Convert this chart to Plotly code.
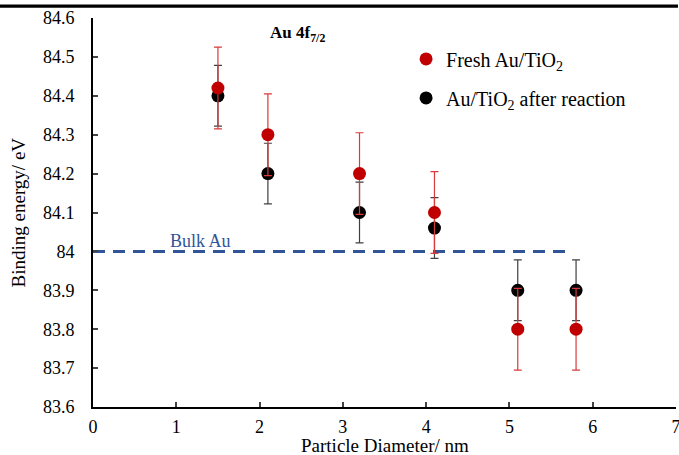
import plotly.graph_objects as go

# Data
diameters = [1.5, 2.1, 3.2, 4.1, 5.1, 5.8]
fresh_be = [84.42, 84.30, 84.20, 84.10, 83.80, 83.80]
fresh_err = [0.105, 0.105, 0.105, 0.105, 0.105, 0.105]
after_be = [84.40, 84.20, 84.10, 84.06, 83.90, 83.90]
after_err = [0.078, 0.078, 0.078, 0.078, 0.078, 0.078]
bulk_x = [0, 5.7]
bulk_be = [84.0, 84.0]
y_ticks = [83.6, 83.7, 83.8, 83.9, 84.0, 84.1, 84.2, 84.3, 84.4, 84.5, 84.6]
y_ticktext = ["83.6", "83.7", "83.8", "83.9", "84", "84.1", "84.2", "84.3", "84.4", "84.5", "84.6"]
x_ticks = [0, 1, 2, 3, 4, 5, 6, 7]

FONT = "Liberation Serif"

fig = go.Figure()

fig.add_trace(go.Scatter(
    x=bulk_x, y=bulk_be, mode="lines", showlegend=False,
    line=dict(color="#2f5597", width=3, dash="12px,8px"), hoverinfo="skip"))

fig.add_trace(go.Scatter(
    x=diameters, y=after_be, mode="markers", name="Au/TiO<sub>2</sub> after reaction",
    legendrank=2, legendgroup="b",
    marker=dict(color="#000000", size=13),
    error_y=dict(type="data", array=after_err, color="#404040", thickness=1.2, width=4)))

fig.add_trace(go.Scatter(
    x=diameters, y=fresh_be, mode="markers", name="Fresh Au/TiO<sub>2</sub>",
    legendrank=1, legendgroup="a",
    marker=dict(color="#c00000", size=13),
    error_y=dict(type="data", array=fresh_err, color="#d93a3a", thickness=1.2, width=4)))

fig.add_annotation(x=1.29, y=84.027, xref="x", yref="y", text="Bulk Au",
                   showarrow=False, font=dict(family=FONT, size=18, color="#2f5597"))
fig.add_annotation(x=2.45, y=84.56, xref="x", yref="y", text="<b>Au 4f<sub>7/2</sub></b>",
                   showarrow=False, font=dict(family=FONT, size=17, color="#000000"))

# axis titles
fig.add_annotation(x=0.5, y=-0.1, xref="paper", yref="paper", text="Particle Diameter/ nm",
                   xanchor="center", yanchor="middle",
                   showarrow=False, font=dict(family=FONT, size=19, color="#000000"))
fig.add_annotation(x=-0.127, y=0.5, xref="paper", yref="paper", text="Binding energy/ eV",
                   xanchor="center", yanchor="middle",
                   textangle=-90, showarrow=False, font=dict(family=FONT, size=19, color="#000000"))

# top border line of the picture
fig.add_shape(type="rect", xref="paper", yref="paper", x0=-0.1595, x1=1.0034,
              y0=1.0265, y1=1.0345, layer="above", fillcolor="#000000",
              line=dict(width=0))

fig.update_layout(
    width=679, height=455,
    margin=dict(l=93, r=3, t=18, b=48, autoexpand=False),
    paper_bgcolor="white", plot_bgcolor="white",
    font=dict(family=FONT, size=18, color="#000000"),
    legend=dict(x=0.537, y=0.945, xanchor="left", yanchor="top",
                font=dict(family=FONT, size=20), tracegroupgap=10,
                bgcolor="rgba(0,0,0,0)", itemsizing="trace"),
    xaxis=dict(range=[0, 7], tickvals=x_ticks, ticks="inside", ticklen=5, tickwidth=2,
               showline=True, linecolor="#000000", linewidth=2, showgrid=False, zeroline=False,
               ticklabelstandoff=2, automargin=False, ticklabeloverflow="allow",
               tickfont=dict(family=FONT, size=18)),
    yaxis=dict(range=[83.6, 84.6], tickvals=y_ticks, ticktext=y_ticktext, ticks="inside",
               ticklen=5, tickwidth=2, showline=True, linecolor="#000000", linewidth=2,
               showgrid=False, zeroline=False, ticklabelstandoff=13, automargin=False,
               ticklabeloverflow="allow", tickfont=dict(family=FONT, size=18)),
)

fig.write_html(
    "out.html", config={"displayModeBar": False},
    post_script=("document.body.style.margin='0';"
                 "document.documentElement.style.overflow='hidden';"
                 "document.body.style.overflow='hidden';"
                 "window.scrollTo(0,0);"))
